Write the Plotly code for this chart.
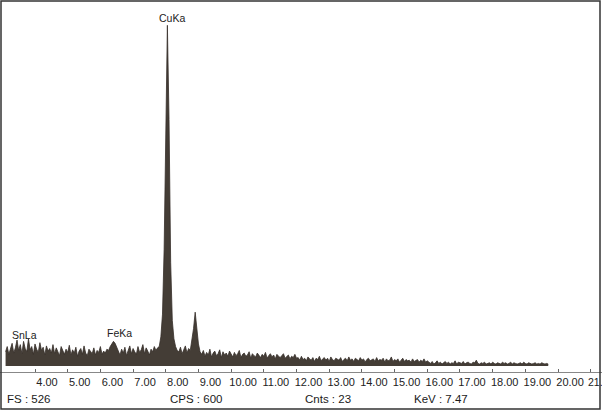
import numpy as np
import plotly.graph_objects as go

# EDS spectrum counts, channel width 0.05 keV, first channel at 3.10 keV
E_START = 3.10
E_STEP = 0.05

bg_low = [22, 30, 18, 26, 35, 20, 28, 40, 24, 33, 19, 38, 27, 22, 42, 25, 30, 18, 34, 26,
          21, 36, 24, 29, 17, 31, 23, 27, 20, 33]                       # 3.10 - 4.55
bg_mid = [19, 28, 22, 16, 30, 24, 18, 26, 21, 32, 17, 25, 20, 29, 15, 23, 27, 18, 31, 20,
          16, 26, 22, 19, 28, 17, 24, 21, 30, 18, 23, 20, 26]           # 4.60 - 6.20
fe_ka = [24, 30, 34, 38, 35, 28, 22]                                    # 6.25 - 6.55
bg_pre_cu = [17, 26, 20, 29, 16, 24, 31, 19, 27, 22, 18, 30, 21, 25, 33, 19, 28, 23, 17, 26,
             22, 30, 24, 28]                                            # 6.60 - 7.75
cu_ka = [30, 45, 80, 180, 400, 525, 380, 160, 70, 42, 30, 24]           # 7.80 - 8.35
bg_between = [22, 29, 19, 26, 31, 20, 27, 24]                           # 8.40 - 8.75
cu_kb = [38, 58, 83, 55, 34, 22]                                        # 8.80 - 9.05
bg_9_12 = [18, 24, 15, 21, 17, 26, 14, 20, 23, 16, 19, 25, 13, 22, 17, 20, 15, 23, 18, 14,
           21, 16, 19, 24, 13, 18, 20, 15, 17, 22, 12, 19, 16, 14, 20, 17, 13, 18, 15, 21,
           12, 16, 19, 14, 17, 11, 18, 15, 13, 16, 19, 12, 14, 17, 11, 15, 13, 18, 12]  # 9.10 - 12.00
bg_12_16 = [13, 9, 15, 10, 12, 8, 14, 11, 9, 13, 7, 12, 10, 15, 8, 11, 13, 9, 12, 7,
            14, 10, 8, 12, 11, 9, 13, 7, 10, 12, 8, 14, 9, 11, 7, 12, 10, 8, 13, 9,
            11, 6, 10, 12, 8, 9, 11, 7, 13, 8, 10, 9, 12, 6, 11, 8, 9, 14, 7, 10,
            8, 11, 6, 9, 12, 7, 10, 8, 9, 6, 11, 7, 8, 10, 6, 9, 7, 11, 6, 8]         # 12.05 - 16.00
bg_16_20 = [6, 4, 7, 3, 5, 8, 4, 6, 3, 5, 7, 4, 6, 3, 5, 4, 8, 3, 6, 5,
            4, 7, 3, 5, 6, 4, 3, 6, 5, 9, 4, 3, 5, 4, 6, 3, 4, 5, 3, 6,
            4, 3, 5, 4, 3, 6, 4, 5, 3, 4, 6, 3, 5, 4, 3, 4, 5, 3, 6, 4,
            3, 5, 4, 3, 4, 5, 3, 4, 3, 5, 4, 3, 4, 3]                             # 16.05 - 19.70

counts = (bg_low + bg_mid + fe_ka + bg_pre_cu + cu_ka + bg_between + cu_kb
          + bg_9_12 + bg_12_16 + bg_16_20)
energy = E_START + E_STEP * np.arange(len(counts))

tick_vals = list(range(4, 22))
tick_text = ["%.2f" % v for v in range(4, 21)] + [""]
last_tick_label = "21."
last_tick_value = 21

peak_labels = ["SnLa", "FeKa", "CuKa"]
peak_label_x = [3.68, 6.58, 8.19]
peak_label_y = [48, 51, 537]

footer = ["FS : 526", "CPS : 600", "Cnts : 23", "KeV : 7.47"]
footer_x = [5, 168, 303, 412]

FONT = "Liberation Sans, Arial, sans-serif"
W, H = 602, 411
plot_bottom = 372

fig = go.Figure()
fig.add_trace(go.Scatter(
    x=energy, y=counts, mode="lines", line=dict(color="#362f29", width=0.8),
    fill="tozeroy", fillcolor="#443d36", hoverinfo="skip", showlegend=False))

for t, x, y in zip(peak_labels, peak_label_x, peak_label_y):
    fig.add_annotation(x=x, y=y, text=t, showarrow=False, xanchor="center", yanchor="middle",
                       font=dict(family=FONT, size=10.5, color="#222"))

# last (cropped) tick label of the instrument print-out
fig.add_annotation(x=last_tick_value, xref="x", y=-(382 - plot_bottom) / plot_bottom, yref="paper",
                   text=last_tick_label, showarrow=False, xanchor="left", yanchor="middle",
                   xshift=-5, font=dict(family=FONT, size=10.5, color="#222"))

for t, x in zip(footer, footer_x):
    fig.add_annotation(x=x / W, y=-(399 - plot_bottom) / plot_bottom, xref="paper", yref="paper",
                       text=t, showarrow=False, xanchor="left", yanchor="middle",
                       font=dict(family=FONT, size=11.5, color="#1a1a1a"))

fig.add_shape(type="rect", xref="paper", yref="paper",
              x0=1 / W, x1=600 / W, y0=-(409 - plot_bottom) / plot_bottom, y1=1 - 1 / plot_bottom,
              line=dict(color="#333", width=1.5))

px_per_kev = 32.69
fig.update_xaxes(range=[4 - 35 / px_per_kev, 4 + 567 / px_per_kev],
                 tickvals=tick_vals, ticktext=tick_text, automargin=False,
                 showline=True, linecolor="#888", linewidth=1,
                 ticks="inside", ticklen=3, tickcolor="#666",
                 ticklabelshift=12, ticklabelstandoff=0,
                 showgrid=False, zeroline=False,
                 tickfont=dict(family=FONT, size=11, color="#222"))
fig.update_yaxes(range=[-9.2, 564], visible=False, showgrid=False, zeroline=False,
                 automargin=False)

fig.update_layout(width=W, height=H, margin=dict(l=0, r=0, t=0, b=H - plot_bottom,
                                                 autoexpand=False),
                  paper_bgcolor="white", plot_bgcolor="white", showlegend=False)

fig.write_html("out.html", config={"displayModeBar": False, "staticPlot": True},
               post_script="document.body.style.margin='0';document.body.style.padding='0';"
                           "document.documentElement.style.overflow='hidden';")
